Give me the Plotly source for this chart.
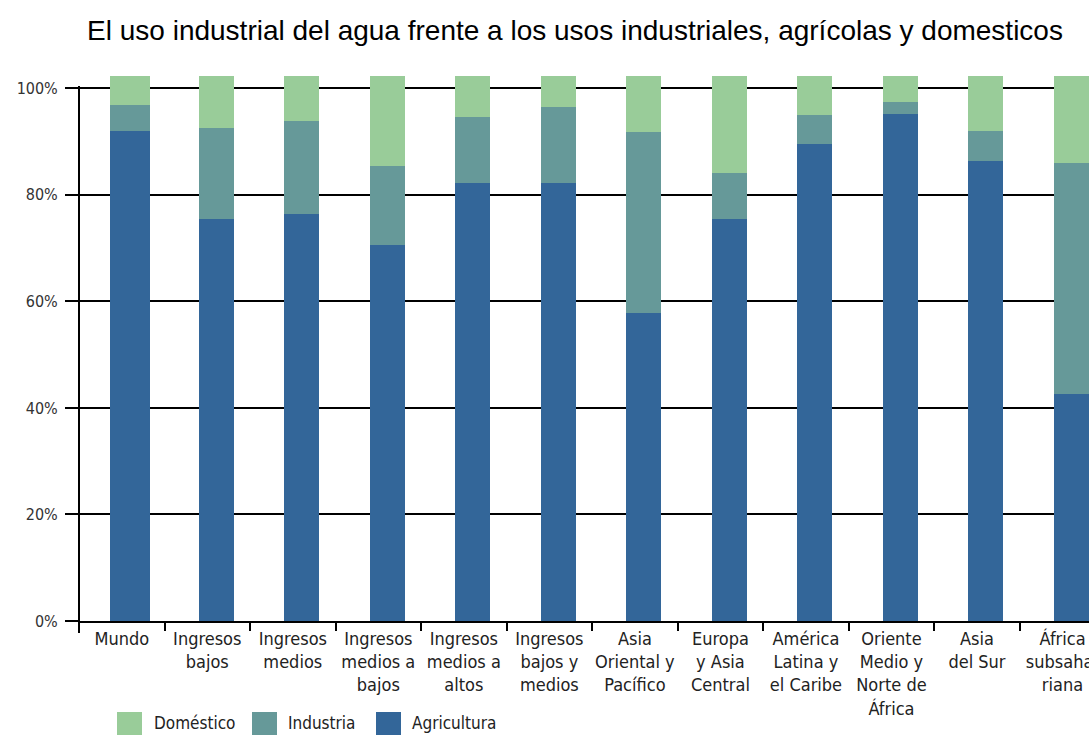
import plotly.graph_objects as go

# Regions / categories (x axis)
categorias = [
    "Mundo", "Ingresos<br>bajos", "Ingresos<br>medios", "Ingresos<br>medios a<br>bajos",
    "Ingresos<br>medios a<br>altos", "Ingresos<br>bajos y<br>medios", "Asia<br>Oriental y<br>Pacífico",
    "Europa<br>y Asia<br>Central", "América<br>Latina y<br>el Caribe", "Oriente<br>Medio y<br>Norte de<br>África",
    "Asia<br>del Sur", "África<br>subsaha-<br>riana",
]

# Share of water use per sector (%)
agricultura = [92.0, 75.4, 76.4, 70.5, 82.3, 82.3, 57.8, 75.4, 89.5, 95.1, 86.3, 42.6]
industria = [4.8, 17.2, 17.5, 15.0, 12.3, 14.2, 34.0, 8.6, 5.4, 2.4, 5.7, 43.3]
domestico = [5.5, 9.7, 8.4, 16.8, 7.7, 5.8, 10.5, 18.3, 7.4, 4.8, 10.3, 16.4]

ytick_vals = [0, 20, 40, 60, 80, 100]
ytick_text = ["0%", "20%", "40%", "60%", "80%", "100%"]

series = [
    ("Agricultura", agricultura, "#336699"),
    ("Industria", industria, "#669999"),
    ("Doméstico", domestico, "#99cc99"),
]

FONT = "DejaVu Sans Condensed, Liberation Sans Narrow, sans-serif"

# bar widths / offsets (first bar is a bit wider in the original)
widths = [0.47] + [0.41] * 11
offsets = [-0.135] + [-0.1] * 11

fig = go.Figure()
for name, vals, color in series:
    fig.add_trace(go.Bar(
        x=categorias,
        y=vals,
        name=name,
        marker=dict(color=color, line=dict(width=0)),
        width=widths,
        offset=offsets,
        showlegend=False,
    ))

# Plot area in pixels: left 79, right 1089, top 76, bottom 621
L, R, T, B = 79, 1089, 76, 621

def px(x):
    return (x - L) / (R - L)

def py(y):
    return (B - y) / (B - T)

shapes = []
# y axis line (from slightly below 0 up to 100%)
shapes.append(dict(type="line", xref="paper", yref="paper", x0=0, x1=0,
                   y0=py(633), y1=py(86), line=dict(color="black", width=2)))

# hand-made legend, like the original
legend_items = [
    ("Doméstico", "#99cc99", 117, 152),
    ("Industria", "#669999", 252, 286),
    ("Agricultura", "#336699", 376, 410),
]
annotations = []
for name, color, sx, tx in legend_items:
    shapes.append(dict(type="rect", xref="paper", yref="paper",
                       x0=px(sx), x1=px(sx + 25), y0=py(712), y1=py(735),
                       fillcolor=color, line=dict(width=0)))
    annotations.append(dict(text=name, xref="paper", yref="paper",
                            x=px(tx), y=py(723), xanchor="left", yanchor="middle",
                            showarrow=False, font=dict(family=FONT, size=17, color="#222")))

fig.update_layout(
    width=1089,
    height=736,
    barmode="stack",
    plot_bgcolor="white",
    paper_bgcolor="white",
    margin=dict(l=L, r=0, t=T, b=736 - B, autoexpand=False),
    title=dict(
        text="El uso industrial del agua frente a los usos industriales, agrícolas y domesticos",
        x=575 / 1089, xanchor="center", xref="container",
        y=1 - 30 / 736, yanchor="middle", yref="container",
        font=dict(family="Liberation Sans, Arial, sans-serif", size=28, color="black"),
    ),
    xaxis=dict(
        range=[-0.5, 11.31],
        tickson="boundaries",
        ticks="outside",
        ticklen=8,
        tickwidth=2,
        tickcolor="black",
        tickangle=0,
        automargin=False,
        showline=True,
        linecolor="black",
        linewidth=2,
        showgrid=False,
        tickfont=dict(family=FONT, size=18, color="#222"),
    ),
    yaxis=dict(
        range=[0, 102.3],
        tickvals=ytick_vals,
        ticktext=ytick_text,
        ticks="outside",
        ticklen=13,
        tickwidth=2,
        tickcolor="black",
        automargin=False,
        showgrid=True,
        gridcolor="black",
        gridwidth=2,
        zeroline=False,
        showline=False,
        ticklabelstandoff=4,
        tickfont=dict(family=FONT, size=16, color="#333"),
    ),
    shapes=shapes,
    annotations=annotations,
)

# the page has a default 8px body margin; drop it so the chart fills the window
fig.write_html("out.html", config={"displayModeBar": False},
               post_script="document.body.style.margin='0';")
